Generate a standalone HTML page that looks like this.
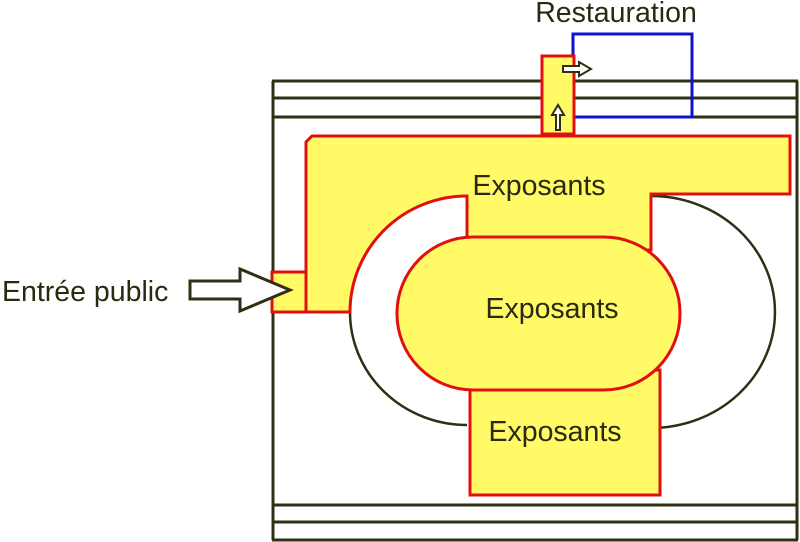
<!DOCTYPE html>
<html><head><style>body{margin:0;background:#fff}svg{display:block}text{font-family:"Liberation Sans",Arial,sans-serif;fill:#2a2a10}</style></head>
<body>
<svg width="800" height="542" viewBox="0 0 800 542">
<g stroke="#2f2f14" stroke-width="3" fill="none">
<line x1="272" y1="81" x2="798" y2="81"/>
<line x1="272" y1="98" x2="798" y2="98"/>
<line x1="272" y1="117" x2="798" y2="117"/>
<line x1="272" y1="505" x2="798" y2="505"/>
<line x1="272" y1="522" x2="798" y2="522"/>
<line x1="272" y1="540" x2="798" y2="540"/>
<line x1="273" y1="81" x2="273" y2="540"/>
<line x1="797" y1="81" x2="797" y2="540"/>
</g>
<rect x="573" y="34" width="119" height="83" fill="none" stroke="#1010d0" stroke-width="3"/>
<rect x="542" y="56" width="32" height="78" fill="#fffa66" stroke="#e01010" stroke-width="3"/>
<path d="M563,66 h16 v-4 l12,7 l-12,7 v-4 h-16 z" fill="#fff" stroke="#2f2f14" stroke-width="2"/>
<path d="M556,130 v-15 h-4 l6,-10 l6,10 h-4 v15 z" fill="#fff" stroke="#2f2f14" stroke-width="2"/>
<path d="M651,196 A124,116 0 0 1 651,428" fill="none" stroke="#2f2f14" stroke-width="2.5"/>
<path d="M350,312 A117,113 0 0 0 467,425" fill="none" stroke="#2f2f14" stroke-width="2.5"/>
<rect x="272" y="272" width="34" height="40" fill="#fffa66" stroke="#e01010" stroke-width="3"/>
<path d="M306,312 L306,142 L312,136 L790,136 L790,194 L651,194 L651,250 L467,250 L467,196 A117,116 0 0 0 350,312 Z" fill="#fffa66" stroke="#e01010" stroke-width="3"/>
<rect x="470" y="370" width="190" height="125" fill="#fffa66" stroke="#e01010" stroke-width="3"/>
<rect x="397" y="237" width="283" height="153" rx="76" fill="#fffa66" stroke="#e01010" stroke-width="3"/>
<path d="M190,281 h50 v-12 l50,21 l-50,21 v-12 h-50 z" fill="#fff" stroke="#2f2f14" stroke-width="3"/>
<text x="616" y="22" font-size="28.5" text-anchor="middle">Restauration</text>
<text x="2" y="301" font-size="28.5">Entrée public</text>
<text x="539" y="195" font-size="28.5" text-anchor="middle">Exposants</text>
<text x="552" y="318" font-size="28.5" text-anchor="middle">Exposants</text>
<text x="555" y="441" font-size="28.5" text-anchor="middle">Exposants</text>
</svg>
</body></html>
